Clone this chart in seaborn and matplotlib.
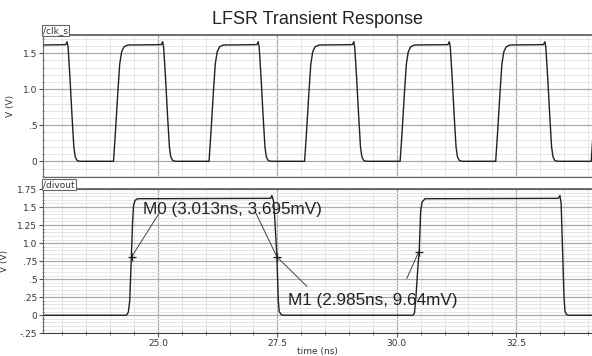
import numpy as np
import pandas as pd
import matplotlib
matplotlib.use("Agg")
import matplotlib.pyplot as plt
from matplotlib.ticker import FixedLocator, FixedFormatter, MultipleLocator
import seaborn as sns

# /clk_s trace (time in ns, volts)
clk_t = [22.59, 23.07, 23.10, 23.12, 23.16, 23.20, 23.24, 23.27, 23.31, 23.37,
         24.07, 24.11, 24.16, 24.20, 24.24, 24.29, 24.37, 25.07, 25.10, 25.12, 25.16, 25.20, 25.24, 25.27, 25.31, 25.37,
         26.07, 26.11, 26.16, 26.20, 26.24, 26.29, 26.37, 27.07, 27.10, 27.12, 27.16, 27.20, 27.24, 27.27, 27.31, 27.37,
         28.07, 28.11, 28.16, 28.20, 28.24, 28.29, 28.37, 29.07, 29.10, 29.12, 29.16, 29.20, 29.24, 29.27, 29.31, 29.37,
         30.07, 30.11, 30.16, 30.20, 30.24, 30.29, 30.37, 31.07, 31.10, 31.12, 31.16, 31.20, 31.24, 31.27, 31.31, 31.37,
         32.07, 32.11, 32.16, 32.20, 32.24, 32.29, 32.37, 33.07, 33.10, 33.12, 33.16, 33.20, 33.24, 33.27, 33.31, 33.37,
         34.07, 34.11]
clk_v = [1.615, 1.62, 1.66, 1.58, 1.15, 0.65, 0.20, 0.06, 0.01, 0.00,
         0.00, 0.40, 0.95, 1.35, 1.52, 1.59, 1.615, 1.62, 1.66, 1.58, 1.15, 0.65, 0.20, 0.06, 0.01, 0.00,
         0.00, 0.40, 0.95, 1.35, 1.52, 1.59, 1.615, 1.62, 1.66, 1.58, 1.15, 0.65, 0.20, 0.06, 0.01, 0.00,
         0.00, 0.40, 0.95, 1.35, 1.52, 1.59, 1.615, 1.62, 1.66, 1.58, 1.15, 0.65, 0.20, 0.06, 0.01, 0.00,
         0.00, 0.40, 0.95, 1.35, 1.52, 1.59, 1.615, 1.62, 1.66, 1.58, 1.15, 0.65, 0.20, 0.06, 0.01, 0.00,
         0.00, 0.40, 0.95, 1.35, 1.52, 1.59, 1.615, 1.62, 1.66, 1.58, 1.15, 0.65, 0.20, 0.06, 0.01, 0.00,
         0.00, 0.40]

# /divout trace
div_t = [22.59, 24.34, 24.38, 24.41, 24.44, 24.47, 24.49, 24.52, 24.57,
         27.36, 27.385, 27.42, 27.45, 27.49, 27.52, 27.54, 27.58, 27.62,
         30.34, 30.37, 30.40, 30.44, 30.47, 30.50, 30.53, 30.59,
         33.38, 33.415, 33.44, 33.47, 33.50, 33.52, 33.55, 33.60, 34.09]
div_v = [0.00, 0.00, 0.04, 0.20, 0.75, 1.30, 1.52, 1.59, 1.615,
         1.62, 1.66, 1.58, 1.30, 0.81, 0.20, 0.05, 0.01, 0.00,
         0.00, 0.03, 0.25, 0.65, 0.90, 1.45, 1.57, 1.615,
         1.62, 1.66, 1.55, 0.90, 0.25, 0.06, 0.01, 0.00, 0.00]

# markers and their labels
mark_t = [24.45, 27.49, 30.46]
mark_v = [0.81, 0.81, 0.88]
label_text = ["M0 (3.013ns, 3.695mV)", "M1 (2.985ns, 9.64mV)"]
label_t = [24.69, 27.72]
label_v = [1.46, 0.21]
leader_t = [25.03, 27.04, 28.12, 30.21]
leader_v = [1.42, 1.43, 0.40, 0.51]
leader_to = [0, 1, 1, 2]

# ticks
x_ticks = [25.0, 27.5, 30.0, 32.5]
x_labels = ["25.0", "27.5", "30.0", "32.5"]
top_yticks = [0.0, 0.5, 1.0, 1.5]
top_ylabels = ["0", ".5", "1.0", "1.5"]
bot_yticks = [-0.25, 0.0, 0.25, 0.5, 0.75, 1.0, 1.25, 1.5, 1.75]
bot_ylabels = ["-.25", "0", ".25", ".5", ".75", "1.0", "1.25", "1.5", "1.75"]

sns.set_style("white")
plt.rcParams['font.family'] = ['DejaVu Sans']

clk_df = pd.DataFrame({"t": clk_t, "v": clk_v})
div_df = pd.DataFrame({"t": div_t, "v": div_v})

fig = plt.figure(figsize=(5.92, 3.56), dpi=100)
ax1 = fig.add_axes([0.0726, 0.5028, 0.9274, 0.3989])
ax2 = fig.add_axes([0.0726, 0.0638, 0.9274, 0.4053])

def style_panel(ax, yticks, ylabels, ylim, minor_y, name):
    ax.set_xlim(22.594, 34.086)
    ax.set_ylim(*ylim)
    ax.xaxis.set_major_locator(FixedLocator(x_ticks))
    ax.xaxis.set_minor_locator(MultipleLocator(0.5))
    ax.yaxis.set_major_locator(FixedLocator(yticks))
    ax.yaxis.set_major_formatter(FixedFormatter(ylabels))
    ax.yaxis.set_minor_locator(MultipleLocator(minor_y))
    ax.grid(True, which='minor', color='#e6e6e6', lw=0.7)
    ax.grid(True, which='major', color='#ababab', lw=0.9)
    ax.set_axisbelow(True)
    ax.spines['right'].set_visible(False)
    ax.spines['top'].set_color('#555555')
    ax.spines['top'].set_linewidth(1.2)
    ax.spines['left'].set_color('#666666')
    ax.spines['bottom'].set_color('#666666')
    ax.tick_params(axis='y', which='major', direction='out', length=3, width=0.8,
                   labelsize=6.5, labelcolor='#333333', color='#555555', pad=1, left=True)
    ax.tick_params(axis='y', which='minor', direction='inout', length=2, width=0.6,
                   color='#777777', left=True)
    ax.text(0.0, 1.0, name, transform=ax.transAxes, ha='left', va='bottom',
            fontsize=6.5, color='#333333',
            bbox=dict(boxstyle='square,pad=0.12', fc='white', ec='#666666', lw=0.8))

style_panel(ax1, top_yticks, top_ylabels, (-0.218, 1.754), 0.1, "/clk_s")
style_panel(ax2, bot_yticks, bot_ylabels, (-0.25, 1.75), 0.05, "/divout")

sns.lineplot(data=clk_df, x="t", y="v", ax=ax1, color='#222222', lw=1.0,
             sort=False, estimator=None)
sns.lineplot(data=div_df, x="t", y="v", ax=ax2, color='#222222', lw=1.0,
             sort=False, estimator=None)

ax1.tick_params(axis='x', which='both', bottom=False, labelbottom=False)
ax1.set_xlabel("")
ax2.xaxis.set_major_formatter(FixedFormatter(x_labels))
ax2.tick_params(axis='x', which='major', direction='out', length=3, width=0.8,
                labelsize=6.5, labelcolor='#333333', color='#555555', pad=1, bottom=True)
ax2.tick_params(axis='x', which='minor', direction='inout', length=3, width=0.6,
                color='#555555', bottom=True)
ax2.spines['bottom'].set_color('#444444')
ax2.set_xlabel("time (ns)", fontsize=6.5, color='#333333', labelpad=-0.5)
for ax in (ax1, ax2):
    ax.set_ylabel("V (V)", fontsize=6.5, color='#333333', labelpad=6)

# delta marker leaders
for lt, lv, k in zip(leader_t, leader_v, leader_to):
    ax2.plot([lt, mark_t[k]], [lv, mark_v[k]], color='#444444', lw=0.7)
sns.scatterplot(x=mark_t, y=mark_v, ax=ax2, marker='+', s=30, color='#222222',
                linewidth=0.9, zorder=5, legend=False)
for txt, tt, tv in zip(label_text, label_t, label_v):
    ax2.text(tt, tv, txt, ha='left', va='center', fontsize=12.3,
             family=['Liberation Sans', 'DejaVu Sans'], color='#222222')

fig.text(317.5 / 592, 1 - 20 / 356, "LFSR Transient Response", ha='center', va='center',
         fontsize=13, family=['Liberation Sans', 'DejaVu Sans'], color='#222222')

plt.savefig("out.png", dpi=100)
plt.close()
